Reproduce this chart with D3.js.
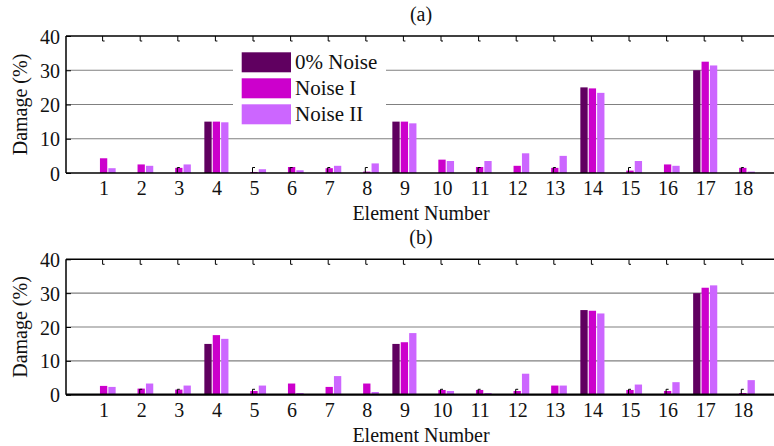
<!DOCTYPE html>
<html><head><meta charset="utf-8">
<script src="https://cdn.jsdelivr.net/npm/d3@7"></script>
<style>body{margin:0;background:#fff}svg{display:block}</style>
</head><body><svg id="c" width="774" height="446"></svg>
<script>
const elements = [1,2,3,4,5,6,7,8,9,10,11,12,13,14,15,16,17,18];
const seriesNames = ["0% Noise","Noise I","Noise II"];
const seriesColors = ["#600060","#cc00cc","#cc66ff"];
const yTicks = [0,10,20,30,40];
// Panel (a)
const a_noise0 = [0,0,0,15,0,0,0,0,15,0,0,0,0,25,0,0,30,0];
const a_noiseI = [4.3,2.5,1.5,15,0.3,1.75,1.4,0.4,15,3.9,1.75,2.1,1.5,24.7,0.7,2.5,32.5,1.5];
const a_noiseII = [1.4,2.1,2.5,14.8,1.1,0.8,2.1,2.8,14.5,3.5,3.5,5.75,5.0,23.4,3.5,2.1,31.4,0.4];
const a_marks = [3,5,6,7,8,11,13,15,18];
// Panel (b)
const b_noise0 = [0,0,0,15,0,0,0,0,15,0,0,0,0,25,0,0,30,0];
const b_noiseI = [2.6,1.8,1.5,17.6,1.1,3.3,2.3,3.3,15.5,1.4,1.4,1.1,2.7,24.8,1.4,1.1,31.6,0.5];
const b_noiseII = [2.3,3.3,2.7,16.5,2.7,0.5,5.5,0.8,18.2,1.1,0.5,6.2,2.7,24.0,3.0,3.7,32.3,4.3];
const b_marks = [2,3,5,10,11,12,15,16,18];

const FONT = '"Liberation Serif","Times New Roman",serif';
const svg = d3.select("#c");
const x = d3.scaleLinear().domain([0,19]).range([66, 66+19*37.6]);
const xs = d3.scaleBand().domain(seriesNames).range([-12.05,12.05]).paddingInner(0.13);

function label(g, txt, size){ return g.append("text").style("font-family",FONT).attr("font-size",size||20).attr("fill","#111").text(txt); }

function panel(top, bottom, title, titleY, s0, s1, s2, marks, thickBase, legend){
  const y = d3.scaleLinear().domain([0,40]).range([bottom, top]);
  const g = svg.append("g");
  const data = [s0,s1,s2];
  g.selectAll(".grid").data([10,20,30]).join("line")
    .attr("x1",66).attr("x2",774).attr("y1",d=>y(d)).attr("y2",d=>y(d))
    .attr("stroke","#808080").attr("stroke-width",1.2);
  data.forEach((arr,si)=>{
    g.selectAll(".b"+si).data(arr).join("rect")
      .attr("x",(d,i)=>x(elements[i])+xs(seriesNames[si]))
      .attr("width",xs.bandwidth())
      .attr("y",d=>y(d)).attr("height",d=>bottom-y(d))
      .attr("fill",seriesColors[si]);
  });
  // small black marks at zero-valued bars
  g.selectAll(".mk").data(marks).join("path")
    .attr("d",d=>`M${x(d)-1.5},${bottom}V${y(1.6)}h2.5`)
    .attr("fill","none").attr("stroke","#000").attr("stroke-width",1);
  g.append("line").attr("x1",66).attr("x2",774).attr("y1",top).attr("y2",top).attr("stroke","#000").attr("stroke-width",1.5);
  g.append("line").attr("x1",66).attr("x2",774).attr("y1",bottom).attr("y2",bottom).attr("stroke","#000").attr("stroke-width",thickBase);
  g.append("line").attr("x1",66).attr("x2",66).attr("y1",top).attr("y2",bottom).attr("stroke","#000").attr("stroke-width",1.5);
  g.selectAll(".tt").data(elements).join("path")
    .attr("d",d=>`M${x(d)-1},${top}v5h2`)
    .attr("fill","none").attr("stroke","#000").attr("stroke-width",1);
  const yAxis = d3.axisLeft(y).tickValues(yTicks).tickSize(-5).tickPadding(6);
  const ya = g.append("g").attr("transform","translate(66,0)").call(yAxis)
    .attr("font-family",null).attr("font-size",20).style("font-family",FONT);
  ya.select(".domain").remove();
  ya.selectAll("line").attr("stroke","#000");
  ya.selectAll("text").attr("dy","0.35em").style("font-family",FONT).attr("fill","#111");
  const xAxis = d3.axisBottom(x).tickValues(elements).tickSize(0).tickPadding(0).tickFormat(d3.format("d"));
  const xa = g.append("g").attr("transform",`translate(0,${bottom})`).call(xAxis)
    .attr("font-family",null).attr("font-size",20).style("font-family",FONT);
  xa.select(".domain").remove();
  xa.selectAll("text").attr("dy",null).attr("y",22).style("font-family",FONT).attr("fill","#111");
  label(g,"Element Number").attr("x",421).attr("y",bottom+47).attr("text-anchor","middle");
  label(g,title).attr("x",421).attr("y",titleY).attr("text-anchor","middle");
  label(g,"Damage (%)").attr("transform",`translate(27,${(top+bottom)/2}) rotate(-90)`).attr("text-anchor","middle");
  if(legend){
    const lg = g.append("g");
    lg.append("rect").attr("x",233).attr("y",48).attr("width",153).attr("height",80).attr("fill","#fff");
    seriesNames.forEach((n,i)=>{
      const yy = 52.3 + i*26;
      lg.append("rect").attr("x",241.7).attr("y",yy).attr("width",49.3).attr("height",20).attr("fill",seriesColors[i]);
      label(lg,n,21).attr("x",295).attr("y",yy+16.5);
    });
  }
}
panel(36, 173, "(a)", 21, a_noise0, a_noiseI, a_noiseII, a_marks, 1.5, true);
panel(259.3, 394.7, "(b)", 244, b_noise0, b_noiseI, b_noiseII, b_marks, 2.2, false);
</script></body></html>
